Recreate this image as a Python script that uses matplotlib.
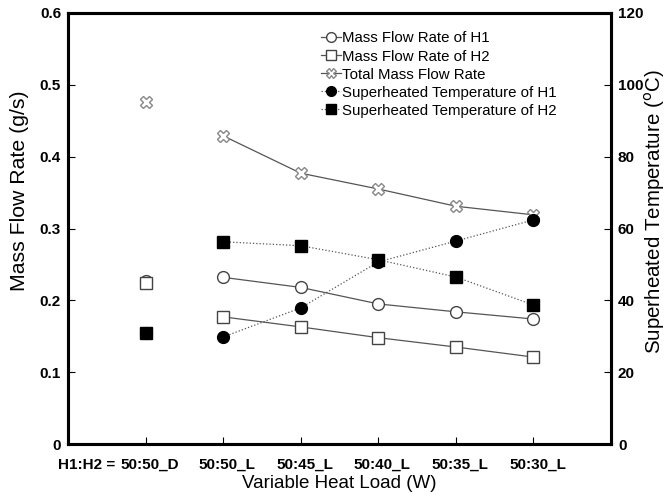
import matplotlib
matplotlib.use("Agg")
import matplotlib.pyplot as plt
import matplotlib.transforms as mtransforms
import numpy as np

plt.rcParams['font.family'] = ['Liberation Sans', 'DejaVu Sans']

categories = ["50:50_D", "50:50_L", "50:45_L", "50:40_L", "50:35_L", "50:30_L"]
mass_h1 = [0.227, 0.232, 0.218, 0.195, 0.184, 0.174]
mass_h2 = [0.224, 0.177, 0.163, 0.148, 0.135, 0.121]
mass_total = [0.476, 0.429, 0.377, 0.355, 0.331, 0.319]
temp_h1 = [31.0, 29.8, 37.9, 50.7, 56.5, 62.4]
temp_h2 = [30.9, 56.3, 55.2, 51.3, 46.5, 38.7]

x = np.arange(1, len(categories) + 1)

fig = plt.figure(figsize=(6.69, 4.99), dpi=100)
ax = fig.add_axes([68/669, 55/499, 543/669, 431/499])
ax2 = ax.twinx()

lc = '#555555'
ms = 8.5

def draw(axis, vals, marker, mfc, mec, ls, label, z):
    axis.plot(x[1:], vals[1:], linestyle=ls, color=lc, lw=0.9, marker=marker,
              mfc=mfc, mec=mec, ms=ms, mew=1.0, label=label, zorder=z)
    axis.plot(x[:1], vals[:1], linestyle='none', marker=marker,
              mfc=mfc, mec=mec, ms=ms, mew=1.0, zorder=z)

draw(ax, mass_h1, 'o', 'white', '#444444', '-', 'Mass Flow Rate of H1', 3)
draw(ax, mass_h2, 's', 'white', '#444444', '-', 'Mass Flow Rate of H2', 4)
draw(ax, mass_total, 'X', 'white', '#888888', '-', 'Total Mass Flow Rate', 3)
draw(ax2, temp_h1, 'o', 'black', 'black', ':', 'Superheated Temperature of H1', 3)
draw(ax2, temp_h2, 's', 'black', 'black', ':', 'Superheated Temperature of H2', 4)

ax.set_xlim(0, 7)
ax.set_ylim(0, 0.6)
ax2.set_ylim(0, 120)
ax.set_xticks(x)
ax.set_xticklabels(categories)
ax.set_yticks(np.arange(0, 0.61, 0.1))
ax.set_yticklabels(['0', '0.1', '0.2', '0.3', '0.4', '0.5', '0.6'])
ax2.set_yticks(np.arange(0, 121, 20))

for a in (ax, ax2):
    for s in a.spines.values():
        s.set_linewidth(2.2)
    a.tick_params(direction='in', length=5, width=0.8, labelsize=11, pad=5)
    for lab in a.get_xticklabels() + a.get_yticklabels():
        lab.set_fontweight('bold')
ax.tick_params(axis='x', pad=10)

shift = mtransforms.ScaledTranslation(4/100, 0, fig.dpi_scale_trans)
for lab in ax.get_xticklabels():
    lab.set_transform(lab.get_transform() + shift)

ax.annotate('H1:H2 =', xy=(1, 0), xycoords=('data', 'axes fraction'),
            xytext=(-21.5, -10), textcoords='offset points', ha='right', va='top',
            fontsize=11, fontweight='bold')

ax.set_xlabel('Variable Heat Load (W)', fontsize=13.5, labelpad=2)
fig.text(20/669, (499-191)/499, 'Mass Flow Rate (g/s)', rotation=90,
         ha='center', va='center', fontsize=15.3)
fig.text(655/669, (499-212)/499, r'Superheated Temperature ($^\mathrm{o}$C)',
         rotation=90, ha='center', va='center', fontsize=14.8)

h1, l1 = ax.get_legend_handles_labels()
h2, l2 = ax2.get_legend_handles_labels()
leg = ax2.legend(h1 + h2, l1 + l2, loc='upper left', bbox_to_anchor=(0.45, 0.978),
                 frameon=False, fontsize=10.8, handlelength=1.3, handletextpad=0.1,
                 labelspacing=0.27, borderaxespad=0.2)
for h in leg.legend_handles:
    h.set_markersize(7)

fig.savefig('out.png', dpi=100)
